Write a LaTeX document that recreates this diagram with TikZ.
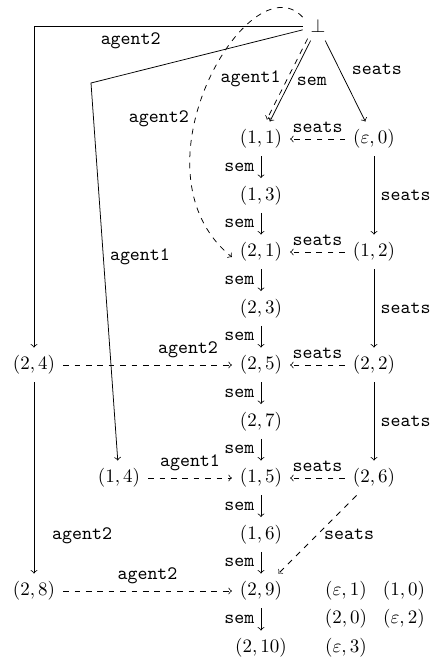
\documentclass[tikz,border=0pt]{standalone}
\begin{document}
\begin{tikzpicture}[x=0.526pt, y=-0.526pt, >=to,
  st/.style={inner sep=4pt},
  lbl/.style={font=\ttfamily, inner sep=3.33pt}]
\useasboundingbox (0,0) rectangle (433,661);

% states
\node[st] (bot) at (318,26) {$\bot$};
\node[st] (n11) at (261,139) {$(1,1)$};
\node[st] (e0)  at (374,139) {$(\varepsilon,0)$};
\node[st] (n13) at (261,195.5) {$(1,3)$};
\node[st] (n21) at (261,252) {$(2,1)$};
\node[st] (n12) at (374,252) {$(1,2)$};
\node[st] (n23) at (261,308.5) {$(2,3)$};
\node[st] (n24) at (34,365) {$(2,4)$};
\node[st] (n25) at (261,365) {$(2,5)$};
\node[st] (n22) at (374,365) {$(2,2)$};
\node[st] (n27) at (261,421.5) {$(2,7)$};
\node[st] (n14) at (119,478) {$(1,4)$};
\node[st] (n15) at (261,478) {$(1,5)$};
\node[st] (n26) at (374,478) {$(2,6)$};
\node[st] (n16) at (261,534.5) {$(1,6)$};
\node[st] (n28) at (34,591) {$(2,8)$};
\node[st] (n29) at (261,591) {$(2,9)$};
\node[st] (e1)  at (346,591) {$(\varepsilon,1)$};
\node[st] (n10) at (404,591) {$(1,0)$};
\node[st] (n20) at (346,619) {$(2,0)$};
\node[st] (e2)  at (404,619) {$(\varepsilon,2)$};
\node[st] (n210) at (261,648) {$(2,10)$};
\node[st] (e3)  at (346,648) {$(\varepsilon,3)$};

% sem chain
\foreach \a/\b in {n11/n13, n13/n21, n21/n23, n23/n25, n25/n27, n27/n15, n15/n16, n16/n29, n29/n210}
  \draw[->] (\a) -- node[lbl, left] {sem} (\b);

% seats column
\foreach \a/\b in {e0/n12, n12/n22, n22/n26}
  \draw[->] (\a) -- node[lbl, right] {seats} (\b);
\foreach \a/\b in {e0/n11, n12/n21, n22/n25, n26/n15}
  \draw[->, dashed] (\a) -- node[lbl, above] {seats} (\b);
\draw[->, dashed] (n26) -- node[lbl, right] {seats} (n29);

% edges out of bottom state
\draw[->] (bot) -- node[lbl, right] {sem} (n11);
\draw[->, dashed, transform canvas={shift={(-3,-2)}}] (bot) -- node[lbl, left] {agent1} (n11);
\draw[->] (bot) -- node[lbl, above right] {seats} (e0);
\draw[->] (bot) -| node[lbl, below, pos=.32] {agent2} (n24);
\coordinate (k14) at (91,83);
\draw[->] (bot) -- (k14) -- node[lbl, right, pos=.46] {agent1} (n14);
\draw[->, dashed] (bot.150) .. controls (250,-40) and (125,170) .. node[lbl, left, pos=.6] {agent2} (n21.190);

% agent edges on the left
\draw[->] (n24) -- node[lbl, right=6pt, pos=.8] {agent2} (n28);
\draw[->, dashed] (n24) -- node[lbl, above, pos=.74] {agent2} (n25);
\draw[->, dashed] (n14) -- node[lbl, above] {agent1} (n15);
\draw[->, dashed] (n28) -- node[lbl, above] {agent2} (n29);
\end{tikzpicture}
\end{document}
